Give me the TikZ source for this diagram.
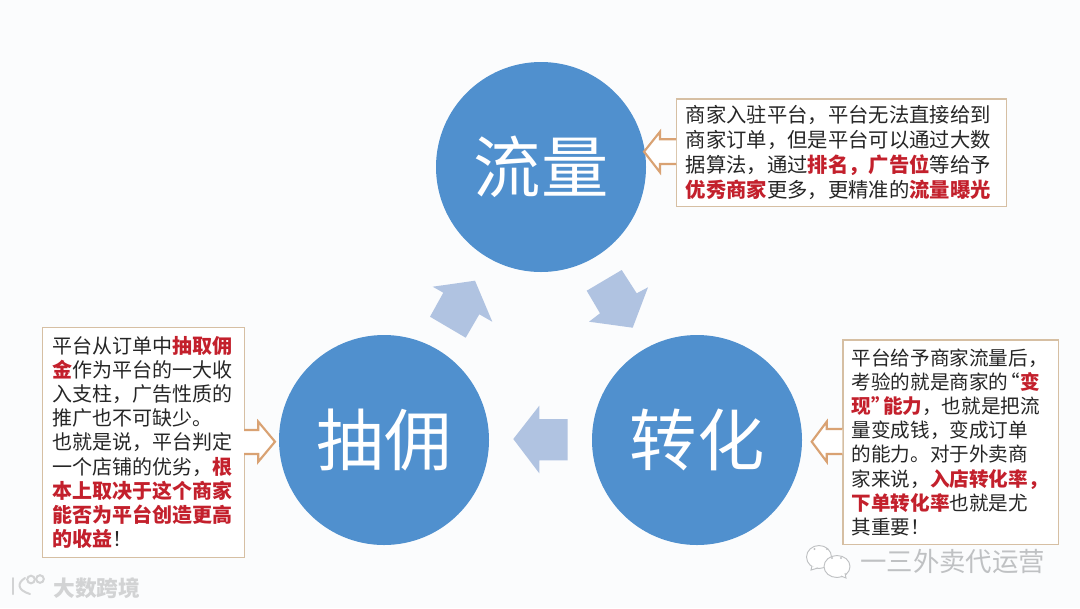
\documentclass[tikz,border=0pt]{standalone}
\usepackage{fontspec}
\setmainfont{Noto Sans CJK SC}
\usetikzlibrary{calc}
\definecolor{bgc}{HTML}{FBFCFD}
\definecolor{disc}{HTML}{5090CE}
\definecolor{flow}{HTML}{B0C3E1}
\definecolor{edge}{HTML}{D6BFA3}
\definecolor{hollow}{HTML}{D9A273}
\definecolor{hot}{HTML}{C3202C}
\definecolor{ink}{HTML}{262626}
\definecolor{wm}{HTML}{BFC1C3}
\definecolor{wmlight}{HTML}{D2D3D4}
\newcommand{\hl}[1]{{\bfseries\color{hot}#1}}
\tikzset{
  x=0.75pt,y=-0.75pt,
  disc/.style={circle,fill=disc,minimum size=157.5pt,inner sep=0pt,text=white,font=\fontsize{50.5}{51}\selectfont},
  flowarrow/.style={fill=flow,draw=none},
  hollowarrow/.style={draw=hollow,fill=white,line width=1.6pt,line join=miter},
  textbox/.style={draw=edge,line width=1.1pt,fill=white,inner sep=0pt,align=left,text=ink,anchor=north west},
  wmark/.style={text=wm,inner sep=0pt,font=\fontsize{19.8}{20}\selectfont},
  wmicon/.style={draw=wm,fill=white,line width=0.7pt},
  wmlogo/.style={draw=wmlight,line width=1.5pt,line cap=round},
}
\begin{document}
\begin{tikzpicture}
\useasboundingbox (0,0) rectangle (1080,608);
\fill[bgc] (0,0) rectangle (1080,608);
\node[disc] (flowc) at (541,167) {流量};
\node[disc] (conv) at (697,440) {转化};
\node[disc] (comm) at (384,440) {抽佣};
\fill[flowarrow] (432.7,286.7)--(475,280.7)--(492.3,321.7)--(479.3,314.3)--(465.7,337.7)--(430,316.7)--(443.3,292.7)--cycle;
\fill[flowarrow] (621.7,270)--(586.7,290.7)--(600,313.3)--(589,321.7)--(632.7,327.7)--(648,287.3)--(636.7,293.3)--cycle;
\fill[flowarrow] (513.3,439)--(539.3,405.7)--(539.3,419)--(567.7,419)--(567.7,460.3)--(539.3,460.3)--(539.3,473.3)--cycle;
\node[textbox,minimum width=247.5pt,minimum height=80.6pt,text width=234pt,font=\fontsize{15.25}{18.75}\selectfont] (tbox) at (676,98.3) {商家入驻平台，平台无法直接给到\\商家订单，但是平台可以通过大数\\据算法，通过\hl{排名，广告位}等给予\\\hl{优秀商家}更多，更精准的\hl{流量曝光}};
\node[textbox,minimum width=161.5pt,minimum height=153.5pt,text width=148.5pt,font=\fontsize{14.7}{18.1}\selectfont] (rbox) at (842.3,339.3) {平台给予商家流量后，\\考验的就是商家的\kern-0.4em“\hl{变}\\\hl{现”\kern-0.4em 能力}，也就是把流\\量变成钱，变成订单\\的能力。对于外卖商\\家来说，\hl{入店转化率，}\\\hl{下单转化率}也就是尤\\其重要！};
\node[textbox,minimum width=151.5pt,minimum height=172.5pt,text width=137pt,font=\fontsize{15}{18.1}\selectfont] (lbox) at (42,326.7) {平台从订单中\hl{抽取佣}\\\hl{金}作为平台的一大收\\入支柱，广告性质的\\推广也不可缺少。\\也就是说，平台判定\\一个店铺的优劣，\hl{根}\\\hl{本上取决于这个商家}\\\hl{能否为平台创造更高}\\\hl{的收益}！};
\draw[hollowarrow] (676,139.3)--(660,139.3)--(660,131.7)--(644,151.7)--(660,172.3)--(660,164)--(676,164);
\draw[hollowarrow] (842.3,429)--(826.7,429)--(826.7,421.7)--(811.7,441.7)--(826.7,461.7)--(826.7,454)--(842.3,454);
\draw[hollowarrow] (244,430)--(258.3,430)--(258.3,421.7)--(275,441.7)--(258.3,461.7)--(258.3,454)--(244,454);
% WeChat mark
\draw[wmicon] (819,557) ellipse [x radius=12.5,y radius=11.5];
\draw[wmicon] (812,566)--(811,570)--(818,568);
\draw[wmicon] (837,566.5) ellipse [x radius=13,y radius=11];
\draw[wmicon] (841,576)--(846,578)--(845,573);
\fill[wm] (814.5,549) circle (1.2) (827,549) circle (1.2) (832,558) circle (1.1) (841,558) circle (1.1);
\node[wmark,anchor=west] (wx) at (860,561) {一三外卖代运营};
% platform mark
\draw[wmlogo] (13,578)--(13,594);
\draw[wmlogo] (25,578) .. controls (17,583) and (17,590) .. (30,594);
\draw[wmlogo] (31,579.5) circle (3.8);
\draw[wmlogo] (40,579) circle (3.8);
\node[wmark,anchor=west,text=wmlight,font=\fontsize{16.3}{16}\bfseries\selectfont] (dk) at (53,588) {大数跨境};
\end{tikzpicture}
\end{document}
